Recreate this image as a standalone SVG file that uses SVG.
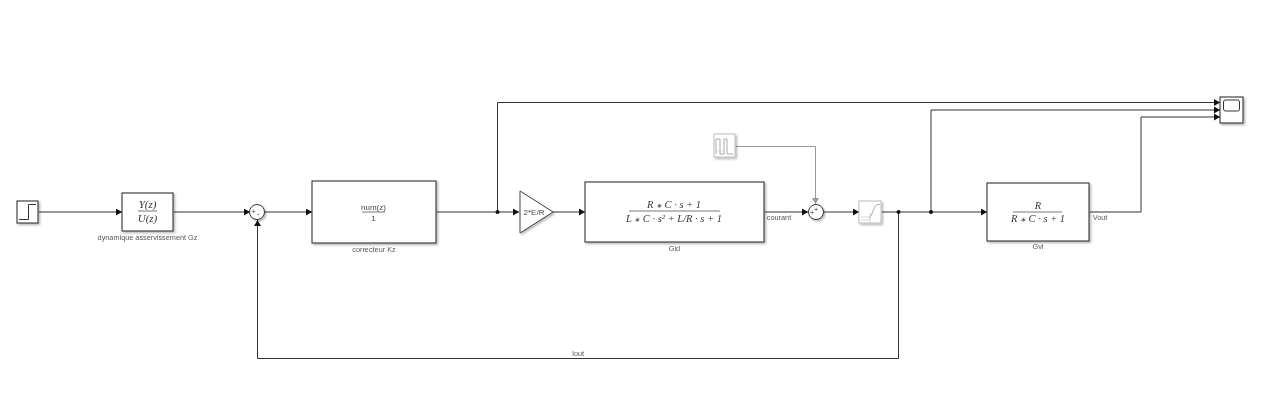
<svg xmlns="http://www.w3.org/2000/svg" width="1280" height="408" viewBox="0 0 1280 408">
<defs>
<filter id="sh" x="-10%" y="-10%" width="125%" height="125%"><feDropShadow dx="1.5" dy="1.5" stdDeviation="1" flood-color="#000" flood-opacity="0.3"/></filter>
<marker id="ah" markerUnits="userSpaceOnUse" markerWidth="7" markerHeight="8" refX="6" refY="3.500" orient="auto"><path d="M0 0L6 3.500L0 7Z" fill="#111"/></marker>
<marker id="ag" markerUnits="userSpaceOnUse" markerWidth="7" markerHeight="8" refX="6" refY="3.500" orient="auto"><path d="M0 0L6 3.500L0 7Z" fill="#999"/></marker>
</defs>
<style>
.b{fill:#fff;stroke:#333;stroke-width:1.1;filter:url(#sh)}
.f{fill:#fff;stroke:#bbb;stroke-width:1;filter:url(#sh)}
.w{fill:none;stroke:#333;stroke-width:1;marker-end:url(#ah)}
.g{fill:none;stroke:#999;stroke-width:1;marker-end:url(#ag)}
.d{fill:#111}
text{font-family:"Liberation Sans",Arial,sans-serif;font-size:7.300px;fill:#555;text-anchor:middle;opacity:.99}
.m{font-family:"Liberation Serif","Times New Roman",serif;font-style:italic;font-size:10.500px;fill:#333}
.a{font-size:7px}
.y{font-size:11px}
.s{font-size:8px;fill:#444}
.fl{stroke:#555;stroke-width:.8;fill:none}
.ic{fill:none;stroke:#333;stroke-width:1}
.ig{fill:none;stroke:#aaa;stroke-width:1}
.il{fill:none;stroke:#ccc;stroke-width:.8}
</style>
<rect width="1280" height="408" fill="#fff"/>
<g id="connectors">
<path class="w" d="M39 212H122"/>
<path class="w" d="M174 212H250"/>
<path class="w" d="M265 212H312"/>
<path class="w" d="M437 212H519"/>
<path class="w" d="M553 212H585"/>
<path class="w" d="M765 212H808"/>
<path class="w" d="M824 212H859"/>
<path class="w" d="M882 212H987"/>
<path class="w" d="M898.500 212V358.500H257.500V220"/>
<path class="w" d="M497.500 212V102.500H1220"/>
<path class="w" d="M931 212V110H1220"/>
<path class="w" d="M1090 212H1141V117H1220"/>
<path class="g" d="M736 146.500H815.500V204"/>
<circle class="d" cx="497.500" cy="212" r="2"/>
<circle class="d" cx="898.500" cy="212" r="2"/>
<circle class="d" cx="931" cy="212" r="2"/>
</g>
<g id="step"><rect class="b" x="17" y="201" width="21" height="22"/><path class="ic" d="M19 219.500H28.500V204.500H36"/></g>
<g id="gz"><rect class="b" x="122" y="193" width="51" height="38"/><text class="m y" x="147.500" y="208">Y(z)</text><path class="fl" d="M138 211H157"/><text class="m y" x="147.500" y="222">U(z)</text><text x="147.500" y="239.500">dynamique asservissement Gz</text></g>
<g id="sum1"><circle cx="257" cy="212" r="7.500" fill="#fff" stroke="#333" filter="url(#sh)"/><text class="s" x="253.500" y="214">+</text><text class="s" x="258" y="216">-</text></g>
<g id="kz"><rect class="b" x="312" y="181" width="124" height="62"/><text class="s" x="373.500" y="210">num(z)</text><path class="fl" d="M362 212H385"/><text class="s" x="373.500" y="221">1</text><text x="374" y="251.500">correcteur Kz</text></g>
<g id="gain"><path d="M520 191L553 212L520 233Z" fill="#fff" stroke="#444" filter="url(#sh)"/><text class="s" x="534" y="215">2*E/R</text></g>
<g id="gid"><rect class="b" x="585" y="182" width="179" height="60"/><text class="m" x="674" y="208">R <tspan class="a">∗</tspan> C · s + 1</text><path class="fl" d="M629 211H720"/><text class="m" x="674" y="221.500">L <tspan class="a">∗</tspan> C · s² + L/R · s + 1</text><text x="674.500" y="250.500">Gid</text></g>
<text id="courant" x="779" y="219.500">courant</text>
<g id="pulse"><rect class="f" x="714" y="134" width="21" height="23"/><path class="ig" d="M716 154V139H720V154H724V139H727V154H733"/><path class="il" d="M716 151H724"/></g>
<g id="sum2"><circle cx="816" cy="212" r="7.500" fill="#fff" stroke="#333" filter="url(#sh)"/><text class="s" x="816" y="212">+</text><text class="s" x="812" y="215">+</text></g>
<g id="sat"><rect class="f" x="859" y="201" width="22" height="22"/><path class="ig" d="M869 218C873 216 873 205 878 204.500H880"/><path class="il" d="M861 217H870M861 220H870M870 213V222"/></g>
<g id="gvi"><rect class="b" x="987" y="183" width="102" height="58"/><text class="m" x="1038" y="209">R</text><path class="fl" d="M1013 212H1062"/><text class="m" x="1038" y="221.500">R <tspan class="a">∗</tspan> C · s + 1</text><text x="1038" y="248.500">Gvi</text></g>
<text id="vout" x="1100" y="219.500">Vout</text>
<text id="iout" x="578" y="355.500">Iout</text>
<g id="scope"><rect class="b" x="1220" y="97" width="23" height="26"/><rect x="1223.500" y="100" width="16" height="11" rx="2" fill="#fff" stroke="#333"/></g>
</svg>
